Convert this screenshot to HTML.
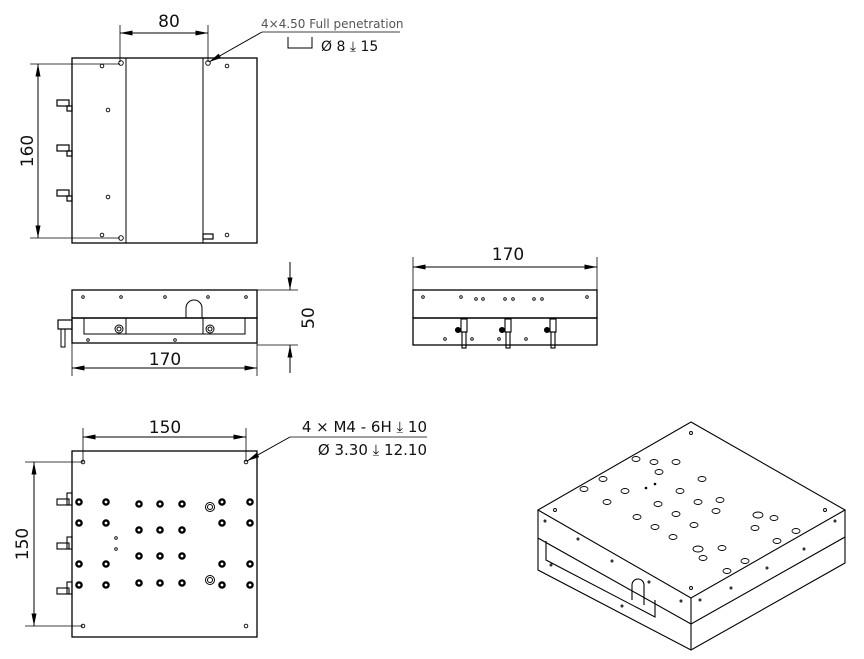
<!DOCTYPE html>
<html><head><meta charset="utf-8"><style>
html,body{margin:0;padding:0;background:#fff}
svg{display:block}
text{font-family:"DejaVu Sans","Liberation Sans",sans-serif;fill:#111}
</style></head><body>
<svg width="864" height="659" viewBox="0 0 864 659" xmlns="http://www.w3.org/2000/svg">
<defs>
<marker id="a" viewBox="0 0 10 4" refX="10" refY="2" markerWidth="14" markerHeight="5" orient="auto-start-reverse" markerUnits="userSpaceOnUse"><path d="M0,0L10,2L0,4z" fill="#000"/></marker>
</defs>
<g stroke="#000" fill="none" stroke-width="1">
<!-- TOP VIEW -->
<rect x="72" y="58" width="185" height="185" stroke-width="1.3"/>
<line x1="126" y1="58" x2="126" y2="243"/>
<line x1="203" y1="58" x2="203" y2="243"/>
<line x1="120" y1="25" x2="120" y2="62" stroke-width=".8"/>
<line x1="208" y1="25" x2="208" y2="62" stroke-width=".8"/>
<line x1="120" y1="33" x2="208" y2="33" marker-start="url(#a)" marker-end="url(#a)"/>
<line x1="30" y1="64" x2="120" y2="64" stroke-width=".8"/>
<line x1="30" y1="238" x2="120" y2="238" stroke-width=".8"/>
<line x1="38" y1="64" x2="38" y2="238" marker-start="url(#a)" marker-end="url(#a)"/>
<line x1="262" y1="32" x2="209" y2="62" marker-end="url(#a)"/>
<line x1="262" y1="32" x2="400" y2="32" stroke-width=".8"/>
<path d="M288,37V48H312V37" />
<g stroke-width=".9">
<circle cx="102" cy="66" r="1.8"/><circle cx="121" cy="63" r="2.3"/><circle cx="108" cy="110" r="1.8"/><circle cx="108" cy="197" r="1.8"/><circle cx="102" cy="235" r="1.8"/><circle cx="121" cy="238" r="2.3"/><circle cx="208" cy="63" r="2.3"/><circle cx="227" cy="66" r="1.8"/><circle cx="227" cy="235" r="1.8"/>
</g>
<g stroke-width="1.2">
<rect x="57" y="100" width="12" height="6"/><rect x="67" y="106" width="5" height="5"/>
<rect x="57" y="145" width="12" height="6"/><rect x="67" y="151" width="5" height="5"/>
<rect x="57" y="190" width="12" height="6"/><rect x="67" y="196" width="5" height="5"/>
<rect x="203" y="234" width="10" height="5"/>
</g>
<!-- FRONT VIEW -->
<rect x="72" y="290" width="185" height="28" stroke-width="1.3"/>
<rect x="72" y="318" width="185" height="25" stroke-width="1.3"/>
<path d="M84,318V334H245V318"/>
<path d="M186,318V308A8,8 0 0 1 202,308V318"/>
<line x1="126" y1="318" x2="126" y2="334"/><line x1="203" y1="318" x2="203" y2="334"/>
<circle cx="119" cy="329" r="4"/><circle cx="119" cy="329" r="2"/>
<circle cx="210" cy="329" r="4"/><circle cx="210" cy="329" r="2"/>
<g stroke-width=".9"><circle cx="83" cy="297" r="1.3"/><circle cx="121" cy="297" r="1.3"/><circle cx="165" cy="297" r="1.3"/><circle cx="208" cy="297" r="1.3"/><circle cx="246" cy="297" r="1.3"/><circle cx="88" cy="340" r="1.3"/><circle cx="175" cy="340" r="1.3"/></g>
<rect x="58" y="320" width="14" height="9" stroke-width="1.2"/><rect x="61" y="329" width="4" height="18"/>
<line x1="257" y1="290" x2="298" y2="290" stroke-width=".8"/>
<line x1="257" y1="345" x2="298" y2="345" stroke-width=".8"/>
<line x1="290" y1="262" x2="290" y2="290" marker-end="url(#a)"/>
<line x1="290" y1="373" x2="290" y2="345" marker-end="url(#a)"/>
<line x1="72" y1="343" x2="72" y2="376" stroke-width=".8"/>
<line x1="257" y1="343" x2="257" y2="376" stroke-width=".8"/>
<line x1="72" y1="368" x2="257" y2="368" marker-start="url(#a)" marker-end="url(#a)"/>
<!-- SIDE VIEW -->
<rect x="413" y="290" width="184" height="28" stroke-width="1.3"/>
<rect x="413" y="318" width="184" height="27" stroke-width="1.3"/>
<line x1="413" y1="257" x2="413" y2="290" stroke-width=".8"/>
<line x1="597" y1="257" x2="597" y2="290" stroke-width=".8"/>
<line x1="413" y1="267" x2="597" y2="267" marker-start="url(#a)" marker-end="url(#a)"/>
<g stroke-width=".9"><circle cx="423" cy="297" r="1.3"/><circle cx="461" cy="297" r="1.3"/><circle cx="476" cy="299" r="1.3"/><circle cx="483" cy="299" r="1.3"/><circle cx="505" cy="299" r="1.3"/><circle cx="513" cy="299" r="1.3"/><circle cx="534" cy="299" r="1.3"/><circle cx="542" cy="299" r="1.3"/><circle cx="587" cy="297" r="1.3"/><circle cx="445" cy="339" r="1.3"/><circle cx="472" cy="339" r="1.3"/><circle cx="499" cy="339" r="1.3"/><circle cx="526" cy="339" r="1.3"/></g>
<g stroke-width="1.1">
<rect x="461" y="319" width="6" height="13"/><rect x="462" y="332" width="4" height="16"/><circle cx="458" cy="330" r="2.5" fill="#000"/>
<rect x="505" y="319" width="6" height="13"/><rect x="506" y="332" width="4" height="16"/><circle cx="502" cy="330" r="2.5" fill="#000"/>
<rect x="550" y="319" width="6" height="13"/><rect x="551" y="332" width="4" height="16"/><circle cx="547" cy="330" r="2.5" fill="#000"/>
</g>
<!-- BOTTOM VIEW -->
<rect x="72" y="451" width="185" height="186" stroke-width="1.3"/>
<line x1="83" y1="428" x2="83" y2="462" stroke-width=".8"/>
<line x1="246" y1="428" x2="246" y2="462" stroke-width=".8"/>
<line x1="83" y1="437" x2="246" y2="437" marker-start="url(#a)" marker-end="url(#a)"/>
<line x1="25" y1="462" x2="83" y2="462" stroke-width=".8"/>
<line x1="25" y1="626" x2="83" y2="626" stroke-width=".8"/>
<line x1="34" y1="462" x2="34" y2="626" marker-start="url(#a)" marker-end="url(#a)"/>
<line x1="290" y1="437" x2="247" y2="461" marker-end="url(#a)"/>
<line x1="290" y1="437" x2="427" y2="437" stroke-width=".8"/>
<g stroke-width=".9"><circle cx="83" cy="462" r="1.8"/><circle cx="246" cy="462" r="1.8"/><circle cx="83" cy="626" r="1.8"/><circle cx="246" cy="626" r="1.8"/><circle cx="116" cy="538" r="1.3"/><circle cx="116" cy="549" r="1.3"/></g>
<g stroke-width="2.4">
<circle cx="79" cy="502" r="2.6"/><circle cx="106" cy="502" r="2.6"/><circle cx="79" cy="523" r="2.6"/><circle cx="106" cy="523" r="2.6"/><circle cx="79" cy="564" r="2.6"/><circle cx="106" cy="564" r="2.6"/><circle cx="79" cy="585" r="2.6"/><circle cx="106" cy="585" r="2.6"/>
<circle cx="139" cy="504" r="2.6"/><circle cx="160" cy="504" r="2.6"/><circle cx="182" cy="504" r="2.6"/>
<circle cx="139" cy="530" r="2.6"/><circle cx="160" cy="530" r="2.6"/><circle cx="182" cy="530" r="2.6"/>
<circle cx="139" cy="556" r="2.6"/><circle cx="160" cy="556" r="2.6"/><circle cx="182" cy="556" r="2.6"/>
<circle cx="139" cy="583" r="2.6"/><circle cx="160" cy="583" r="2.6"/><circle cx="182" cy="583" r="2.6"/>
<circle cx="222" cy="502" r="2.6"/><circle cx="250" cy="502" r="2.6"/><circle cx="222" cy="523" r="2.6"/><circle cx="250" cy="523" r="2.6"/><circle cx="222" cy="564" r="2.6"/><circle cx="250" cy="564" r="2.6"/><circle cx="222" cy="585" r="2.6"/><circle cx="250" cy="585" r="2.6"/>
</g>
<circle cx="210" cy="507" r="4.5"/><circle cx="210" cy="507" r="2.5"/>
<circle cx="210" cy="580" r="4.5"/><circle cx="210" cy="580" r="2.5"/>
<g stroke-width="1.1">
<rect x="57" y="499" width="12" height="6"/><rect x="67" y="493" width="5" height="12"/>
<rect x="57" y="543" width="12" height="6"/><rect x="67" y="537" width="5" height="12"/>
<rect x="57" y="588" width="12" height="6"/><rect x="67" y="582" width="5" height="12"/>
</g>
<!-- ISO -->
<g stroke-width="1.1">
<path d="M691,422L845,510L691,598L538,510Z"/>
<path d="M538,510V538L691,624L845,537V510"/>
<line x1="691" y1="598" x2="691" y2="650"/>
<path d="M538,538V570L691,650L845,563V537"/>
<path d="M546,541V560L655,617V600"/>
<path d="M632,600V585A6,6 0 0 1 644,585V605"/>
</g>
<g stroke-width=".9">
<ellipse cx="654" cy="462" rx="4" ry="2.5"/><ellipse cx="636" cy="459" rx="4" ry="2.5"/><ellipse cx="676" cy="462" rx="4" ry="2.5"/>
<ellipse cx="659" cy="472" rx="4" ry="2.5"/><ellipse cx="603" cy="479" rx="4" ry="2.5"/><ellipse cx="584" cy="489" rx="4" ry="2.5"/>
<ellipse cx="625" cy="491" rx="4" ry="2.5"/><ellipse cx="680" cy="491" rx="4" ry="2.5"/><ellipse cx="702" cy="479" rx="4" ry="2.5"/><ellipse cx="720" cy="500" rx="4" ry="2.5"/>
<ellipse cx="607" cy="502" rx="4" ry="2.5"/><ellipse cx="658" cy="504" rx="4" ry="2.5"/><ellipse cx="698" cy="502" rx="4" ry="2.5"/><ellipse cx="716" cy="511" rx="4" ry="2.5"/>
<ellipse cx="637" cy="517" rx="4" ry="2.5"/><ellipse cx="676" cy="514" rx="4" ry="2.5"/><ellipse cx="758" cy="515" rx="5" ry="3"/><ellipse cx="774" cy="518" rx="4" ry="2.5"/>
<ellipse cx="655" cy="527" rx="4" ry="2.5"/><ellipse cx="694" cy="525" rx="4" ry="2.5"/><ellipse cx="755" cy="528" rx="4" ry="2.5"/><ellipse cx="796" cy="531" rx="4" ry="2.5"/>
<ellipse cx="673" cy="537" rx="4" ry="2.5"/><ellipse cx="777" cy="541" rx="4" ry="2.5"/><ellipse cx="698" cy="549" rx="5" ry="3"/><ellipse cx="722" cy="548" rx="4" ry="2.5"/>
<ellipse cx="703" cy="558" rx="4" ry="2.5"/><ellipse cx="745" cy="561" rx="4" ry="2.5"/><ellipse cx="727" cy="571" rx="4" ry="2.5"/>
<circle cx="691" cy="433" r="1.5"/><circle cx="555" cy="510" r="1.5"/><circle cx="825" cy="510" r="1.5"/><circle cx="691" cy="588" r="1.5"/>
<circle cx="545" cy="521" r="1"/><circle cx="578" cy="539" r="1"/><circle cx="612" cy="561" r="1"/><circle cx="649" cy="582" r="1"/><circle cx="681" cy="601" r="1"/><circle cx="700" cy="600" r="1"/><circle cx="731" cy="588" r="1"/><circle cx="767" cy="568" r="1"/><circle cx="804" cy="549" r="1"/><circle cx="835" cy="521" r="1"/><circle cx="551" cy="565" r="1"/><circle cx="622" cy="606" r="1"/>
</g>
<circle cx="646" cy="488" r="1.3" fill="#000" stroke="none"/><circle cx="655" cy="484" r="1.3" fill="#000" stroke="none"/>
</g>
<text x="169" y="27" font-size="17" text-anchor="middle">80</text>
<text x="261" y="28" font-size="12" style="fill:#555">4×4.50 Full penetration</text>
<text x="321" y="51" font-size="14">Ø 8 ⤓ 15</text>
<text transform="translate(33,151) rotate(-90)" font-size="17" text-anchor="middle">160</text>
<text x="165" y="365" font-size="17" text-anchor="middle">170</text>
<text transform="translate(314,318) rotate(-90)" font-size="17" text-anchor="middle">50</text>
<text x="508" y="260" font-size="17" text-anchor="middle">170</text>
<text x="165" y="433" font-size="17" text-anchor="middle">150</text>
<text transform="translate(28,544) rotate(-90)" font-size="17" text-anchor="middle">150</text>
<text x="427" y="432" font-size="15" text-anchor="end">4 × M4 - 6H ⤓ 10</text>
<text x="427" y="455" font-size="15" text-anchor="end">Ø 3.30 ⤓ 12.10</text>
</svg>
</body></html>
